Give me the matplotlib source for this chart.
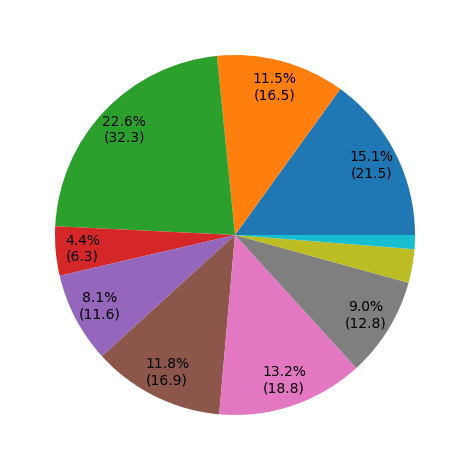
import matplotlib
matplotlib.use("Agg")
import matplotlib.pyplot as plt

values = [21.5, 16.48, 32.3, 6.3, 11.6, 16.9, 18.8, 12.8, 4.3, 1.8]
colors = ['#1f77b4', '#ff7f0e', '#2ca02c', '#d62728', '#9467bd',
          '#8c564b', '#e377c2', '#7f7f7f', '#bcbd22', '#17becf']

total = sum(values)

def fmt(p):
    if p < 4:
        return ''
    return f'{p:.1f}%\n({p * total / 100:.1f})'

fig = plt.figure(figsize=(4.69, 4.70), dpi=100)
ax = fig.add_axes([10 / 469, 10 / 470, 450 / 469, 450 / 470])
ax.pie(values, colors=colors, autopct=fmt, pctdistance=0.85,
       startangle=0, textprops={'fontsize': 10})
fig.savefig('out.png', dpi=100)
